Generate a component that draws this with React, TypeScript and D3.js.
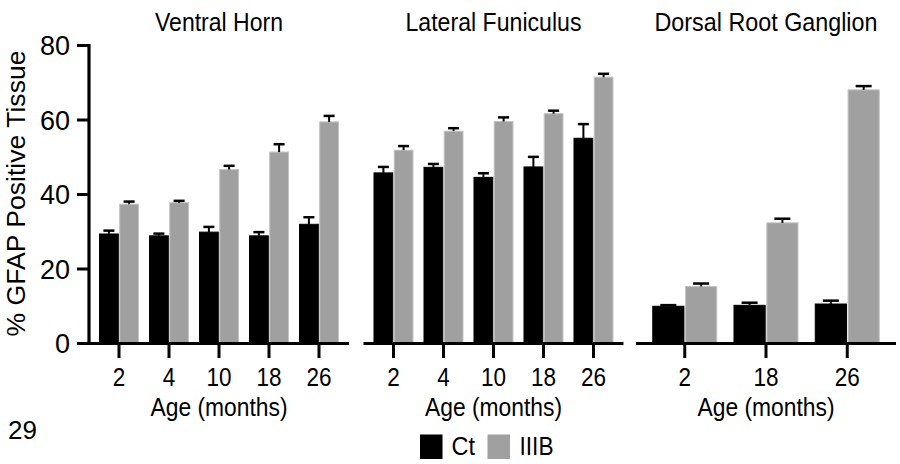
import React from "react";
import * as d3 from "d3";

const panelTitles = ["Ventral Horn", "Lateral Funiculus", "Dorsal Root Ganglion"];
const agesVH = ["2", "4", "10", "18", "26"];
const agesLF = ["2", "4", "10", "18", "26"];
const agesDRG = ["2", "18", "26"];
const seriesNames = ["Ct", "IIIB"];

const vhCt = [29.4, 28.9, 29.9, 28.9, 32.0];
const vhCtErr = [0.9, 0.6, 1.4, 1.0, 1.9];
const vhIIIB = [37.4, 37.8, 46.7, 51.4, 59.5];
const vhIIIBErr = [0.7, 0.5, 1.0, 2.1, 1.6];

const lfCt = [45.8, 47.3, 44.6, 47.4, 55.1];
const lfCtErr = [1.6, 0.9, 1.1, 2.7, 3.8];
const lfIIIB = [51.9, 57.0, 59.6, 61.7, 71.5];
const lfIIIBErr = [1.1, 0.8, 1.1, 0.8, 0.9];

const drgCt = [10.0, 10.25, 10.6];
const drgCtErr = [0.3, 0.7, 0.9];
const drgIIIB = [15.3, 32.4, 68.1];
const drgIIIBErr = [0.8, 1.1, 1.0];

const yTicks = [0, 20, 40, 60, 80];

const FONT = "'Liberation Sans', Arial, Helvetica, sans-serif";
const BLACK = "#000000";
const GRAY = "#a0a0a0";
const GRAY_EDGE = "#c4c4c4";

const panels = [
  { title: panelTitles[0], ages: agesVH, ct: vhCt, ctE: vhCtErr, ib: vhIIIB, ibE: vhIIIBErr, x0: 89, titleLen: 128, cap: 11 },
  { title: panelTitles[1], ages: agesLF, ct: lfCt, ctE: lfCtErr, ib: lfIIIB, ibE: lfIIIBErr, x0: 363.5, titleLen: 176, cap: 11 },
  { title: panelTitles[2], ages: agesDRG, ct: drgCt, ctE: drgCtErr, ib: drgIIIB, ibE: drgIIIBErr, x0: 636, titleLen: 223, cap: 16 },
];

const PW = 260;
const y = d3.scaleLinear().domain([0, 80]).range([343.5, 45.5]);

function Panel({ p }: { p: any }) {
  const x = d3.scalePoint<string>().domain(p.ages).range([p.x0, p.x0 + PW]).padding(0.6);
  const step = x.step();
  const half = step * 0.4;
  const sub = d3.scaleBand<string>().domain(seriesNames).range([-half, half]).paddingInner(0.02);
  const bw = sub.bandwidth();
  const groups = p.ages.map((a: string, i: number) => ({
    a,
    vals: [
      { s: "Ct", v: p.ct[i], e: p.ctE[i] },
      { s: "IIIB", v: p.ib[i], e: p.ibE[i] },
    ],
  }));
  const cx = p.x0 + PW / 2;
  return (
    <g>
      <text x={cx} y={31} textAnchor="middle" fontSize={24} fontFamily={FONT} textLength={p.titleLen} lengthAdjust="spacingAndGlyphs" transform={`translate(${cx},31) scale(1,1.1) translate(${-cx},-31)`}>
        {p.title}
      </text>
      {groups.map((g: any) => (
        <g key={g.a} transform={`translate(${x(g.a)},0)`}>
          {g.vals.map((d: any) => {
            const bx = sub(d.s)!;
            const top = y(d.v);
            const isCt = d.s === "Ct";
            return (
              <g key={d.s}>
                <rect
                  x={bx + 0.5}
                  y={top}
                  width={bw - 1}
                  height={y(0) - top}
                  fill={isCt ? BLACK : GRAY}
                  stroke={isCt ? BLACK : GRAY_EDGE}
                  strokeWidth={1}
                />
                <line x1={bx + bw / 2} x2={bx + bw / 2} y1={top} y2={y(d.v + d.e)} stroke={BLACK} strokeWidth={2} />
                <line x1={bx + bw / 2 - p.cap / 2} x2={bx + bw / 2 + p.cap / 2} y1={y(d.v + d.e)} y2={y(d.v + d.e)} stroke={BLACK} strokeWidth={2.5} />
              </g>
            );
          })}
          <line x1={0} x2={0} y1={y(0)} y2={y(0) + 14.5} stroke={BLACK} strokeWidth={3} />
          <text x={0} y={386} textAnchor="middle" fontSize={25} fontFamily={FONT} transform={`scale(0.9,1)`}>
            {g.a}
          </text>
        </g>
      ))}
      <line x1={p.x0} x2={p.x0 + PW} y1={y(0)} y2={y(0)} stroke={BLACK} strokeWidth={3.2} />
      <text x={cx} y={416} textAnchor="middle" fontSize={25} fontFamily={FONT} textLength={137} lengthAdjust="spacingAndGlyphs">
        Age (months)
      </text>
    </g>
  );
}

export default function App() {
  const ax = 89;
  return (
    <svg width={900} height={464} style={{ position: "absolute", left: 0, top: 0, background: "#fff" }} xmlns="http://www.w3.org/2000/svg">
      <rect x={0} y={0} width={900} height={464} fill="#fff" />
      <line x1={ax} x2={ax} y1={y(80) - 1.5} y2={y(0) + 1.5} stroke={BLACK} strokeWidth={3.2} />
      {yTicks.map((t) => (
        <g key={t}>
          <line x1={ax - 12} x2={ax} y1={y(t)} y2={y(t)} stroke={BLACK} strokeWidth={3} />
          <text x={70} y={y(t) + 9.5} textAnchor="end" fontSize={27} fontFamily={FONT}>
            {t}
          </text>
        </g>
      ))}
      <text
        transform={`translate(25,193.5) rotate(-90)`}
        textAnchor="middle"
        fontSize={26}
        fontFamily={FONT}
        textLength={286}
        lengthAdjust="spacingAndGlyphs"
      >
        % GFAP Positive Tissue
      </text>
      {panels.map((p) => (
        <Panel key={p.title} p={p} />
      ))}
      <text x={8} y={439} fontSize={26} fontFamily={FONT}>
        29
      </text>
      <rect x={420} y={434.5} width={22.5} height={24.5} fill={BLACK} />
      <text x={451.5} y={455} fontSize={26} fontFamily={FONT} textLength={23.5} lengthAdjust="spacingAndGlyphs">
        {seriesNames[0]}
      </text>
      <rect x={487.5} y={434.5} width={22.5} height={24.5} fill={GRAY} />
      <text x={519.5} y={455} fontSize={26} fontFamily={FONT} textLength={34} lengthAdjust="spacingAndGlyphs">
        {seriesNames[1]}
      </text>
    </svg>
  );
}
